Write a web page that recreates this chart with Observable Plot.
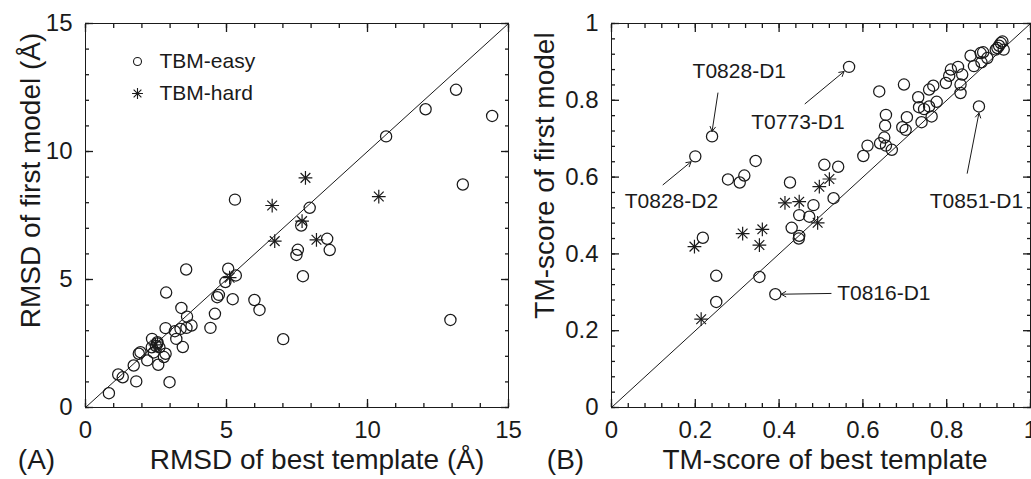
<!DOCTYPE html>
<html><head><meta charset="utf-8">
<script src="https://cdn.jsdelivr.net/npm/d3@7"></script>
<script src="https://cdn.jsdelivr.net/npm/@observablehq/plot@0.6"></script>
<style>
body{margin:0;background:#fff;}
#wrap{display:flex;width:1031px;height:479px;overflow:hidden;background:#fff;}
#wrap svg{overflow:visible;}
</style></head><body><div id="wrap"></div>
<script>
// ---------- Panel A: RMSD ----------
const rmsdMajor = [0, 5, 10, 15];
const rmsdMinor = d3.range(0, 16, 1);
const rmsdDiagonal = [0, 15];
const easyRmsdTemplate = [10.66,12.06,13.14,14.42,13.38,5.30,7.95,7.65,8.57,8.66,7.53,7.48,7.71,3.57,5.06,5.33,4.96,2.86,4.73,4.67,5.22,5.99,6.17,12.94,7.01,3.40,3.60,4.59,4.43,3.76,3.58,3.37,3.17,2.84,3.22,3.45,2.36,2.55,2.50,2.35,2.62,2.42,2.55,2.84,2.78,1.95,1.89,2.19,2.58,1.71,1.16,1.32,1.80,2.98,0.83];
const easyRmsdModel    = [10.59,11.65,12.41,11.39,8.71,8.12,7.80,7.11,6.59,6.15,6.16,5.96,5.13,5.39,5.42,5.16,4.90,4.49,4.40,4.31,4.23,4.20,3.81,3.42,2.67,3.89,3.55,3.66,3.11,3.20,3.11,3.07,2.98,3.10,2.68,2.36,2.68,2.55,2.40,2.35,2.35,2.15,2.50,2.10,1.97,2.16,2.10,1.84,1.67,1.64,1.29,1.18,1.02,0.99,0.56];
const hardRmsdTemplate = [7.80,10.40,6.62,7.68,6.71,8.19,5.11,2.48];
const hardRmsdModel    = [8.97,8.24,7.89,7.28,6.50,6.55,5.07,2.45];
const legendLabels = ["TBM-easy", "TBM-hard"];

// ---------- Panel B: TM-score ----------
const tmMajor = [0, 0.2, 0.4, 0.6, 0.8, 1];
const tmMinor = d3.range(0, 26, 1).map(i => i * 0.04);
const tmDiagonal = [0, 1];
const easyTmTemplate = [0.567,0.240,0.200,0.344,0.278,0.317,0.306,0.426,0.508,0.541,0.530,0.482,0.448,0.472,0.430,0.448,0.447,0.218,0.250,0.353,0.391,0.250,0.639,0.698,0.655,0.653,0.705,0.694,0.702,0.651,0.641,0.655,0.669,0.611,0.601,0.732,0.734,0.746,0.758,0.776,0.740,0.764,0.758,0.768,0.798,0.806,0.810,0.827,0.837,0.833,0.833,0.877,0.857,0.865,0.881,0.887,0.883,0.897,0.921,0.929,0.933,0.936,0.917,0.925];
const easyTmModel    = [0.887,0.706,0.654,0.642,0.594,0.604,0.586,0.586,0.632,0.627,0.545,0.527,0.501,0.497,0.468,0.447,0.440,0.442,0.343,0.340,0.295,0.275,0.823,0.841,0.762,0.734,0.756,0.730,0.723,0.703,0.688,0.682,0.671,0.682,0.655,0.808,0.782,0.777,0.784,0.796,0.743,0.758,0.828,0.838,0.845,0.864,0.880,0.887,0.867,0.841,0.819,0.784,0.916,0.889,0.923,0.925,0.899,0.910,0.936,0.949,0.953,0.932,0.932,0.942];
const hardTmTemplate = [0.414,0.448,0.496,0.520,0.492,0.360,0.313,0.353,0.198,0.214];
const hardTmModel    = [0.533,0.536,0.575,0.595,0.481,0.464,0.453,0.423,0.419,0.230];
const annLabels = ["T0828-D1","T0773-D1","T0828-D2","T0851-D1","T0816-D1"];
const annTextX  = [0.305,0.445,0.143,0.871,0.650];
const annTextY  = [0.875,0.744,0.538,0.538,0.298];
const arrowX1   = [0.254,0.462,0.123,0.849,0.524];
const arrowY1   = [0.819,0.791,0.580,0.610,0.297];
const arrowX2   = [0.240,0.555,0.190,0.877,0.405];
const arrowY2   = [0.719,0.875,0.640,0.767,0.295];

const FONT = "'Liberation Sans', Arial, Helvetica, sans-serif";
const INK = "#1a1a1a";
const H = 479, MT = 23, MB = 72;
const blank = () => "";

function panel(o) {
  const easy = o.easyX.map((x, i) => ({x, y: o.easyY[i]}));
  const hard = o.hardX.map((x, i) => ({x, y: o.hardY[i]}));
  // inward ticks on all four sides (negative tick size), minor then major
  const tickAxes = [];
  for (const [vals, len] of [[o.minor, 4], [o.major, 8]]) {
    for (const anchor of ["bottom", "top"]) {
      tickAxes.push(Plot.axisX({anchor, ticks: vals, tickSize: -len, tickFormat: blank, label: null, stroke: INK, strokeWidth: 1.3}));
    }
    for (const anchor of ["left", "right"]) {
      tickAxes.push(Plot.axisY({anchor, ticks: vals, tickSize: -len, tickFormat: blank, label: null, stroke: INK, strokeWidth: 1.3}));
    }
  }
  return Plot.plot({
    width: o.width, height: H,
    marginLeft: o.ml, marginRight: o.mr, marginTop: MT, marginBottom: MB,
    style: {fontFamily: FONT, fontSize: "24px", color: INK, background: "none", overflow: "visible"},
    x: {domain: o.domain}, y: {domain: o.domain},
    marks: [
      Plot.axisX({anchor: "bottom", ticks: o.major, tickSize: 0, tickPadding: 13, tickFormat: o.fmt, label: null, fontSize: 24}),
      Plot.axisY({anchor: "left", ticks: o.major, tickSize: 0, tickPadding: 13, tickFormat: o.fmt, label: null, fontSize: 24}),
      ...tickAxes,
      Plot.frame({stroke: INK, fill: "none"}),
      Plot.line(o.diagonal, {x: d => d, y: d => d, stroke: INK, strokeWidth: 1}),
      Plot.dot(easy, {x: "x", y: "y", r: 5.6, stroke: INK, strokeWidth: 1.25, fill: "none"}),
      Plot.dot(hard, {x: "x", y: "y", symbol: "plus", r: 4.5, stroke: INK, strokeWidth: 1.2}),
      Plot.dot(hard, {x: "x", y: "y", symbol: "times", r: 4.5, stroke: INK, strokeWidth: 1.2}),
      Plot.text([o.xLabel], {frameAnchor: "bottom", textAnchor: "middle", lineAnchor: "middle", dx: o.xLabelDx, dy: 53, fontSize: 28, fill: INK}),
      Plot.text([o.yLabel], {frameAnchor: "left", textAnchor: "middle", lineAnchor: "middle", rotate: -90, dx: o.yLabelDx, dy: o.yLabelDy, fontSize: 28, fill: INK}),
      Plot.text([o.panelLabel], {frameAnchor: "bottom-left", textAnchor: "middle", lineAnchor: "middle", dx: o.panelDx, dy: 53, fontSize: 28, fill: INK}),
      ...(o.extra || [])
    ]
  });
}

const legendMarks = [
  Plot.dot([legendLabels[0]], {frameAnchor: "top-left", dx: 52, dy: 38, r: 4, stroke: INK, strokeWidth: 1.1, fill: "none"}),
  Plot.dot([legendLabels[1]], {frameAnchor: "top-left", dx: 52, dy: 70, symbol: "plus", r: 3.6, stroke: INK, strokeWidth: 1.1}),
  Plot.dot([legendLabels[1]], {frameAnchor: "top-left", dx: 52, dy: 70, symbol: "times", r: 3.6, stroke: INK, strokeWidth: 1.1}),
  Plot.text([legendLabels[0]], {text: d => d, frameAnchor: "top-left", textAnchor: "start", lineAnchor: "middle", dx: 74, dy: 38, fontSize: 21, fill: INK}),
  Plot.text([legendLabels[1]], {text: d => d, frameAnchor: "top-left", textAnchor: "start", lineAnchor: "middle", dx: 74, dy: 70, fontSize: 21, fill: INK})
];

const ann = annLabels.map((label, i) => ({label, tx: annTextX[i], ty: annTextY[i], x1: arrowX1[i], y1: arrowY1[i], x2: arrowX2[i], y2: arrowY2[i]}));
const annMarks = [
  Plot.arrow(ann, {x1: "x1", y1: "y1", x2: "x2", y2: "y2", stroke: INK, strokeWidth: 1, headLength: 8}),
  Plot.text(ann, {x: "tx", y: "ty", text: "label", fontSize: 21, fill: INK})
];

const fmt = d => String(d);

const left = panel({
  width: 515, ml: 85, mr: 7, domain: [0, 15], major: rmsdMajor, minor: rmsdMinor, diagonal: rmsdDiagonal, fmt,
  easyX: easyRmsdTemplate, easyY: easyRmsdModel, hardX: hardRmsdTemplate, hardY: hardRmsdModel,
  xLabel: "RMSD of best template (Å)", xLabelDx: 20,
  yLabel: "RMSD of first model (Å)", yLabelDx: -54, yLabelDy: -35,
  panelLabel: "(A)", panelDx: -49, extra: legendMarks
});
const right = panel({
  width: 516, ml: 96, mr: 1, domain: [0, 1], major: tmMajor, minor: tmMinor, diagonal: tmDiagonal, fmt,
  easyX: easyTmTemplate, easyY: easyTmModel, hardX: hardTmTemplate, hardY: hardTmModel,
  xLabel: "TM-score of best template", xLabelDx: 4,
  yLabel: "TM-score of first model", yLabelDx: -66, yLabelDy: -40,
  panelLabel: "(B)", panelDx: -46, extra: annMarks
});
document.getElementById("wrap").append(left, right);
</script>
</body></html>
